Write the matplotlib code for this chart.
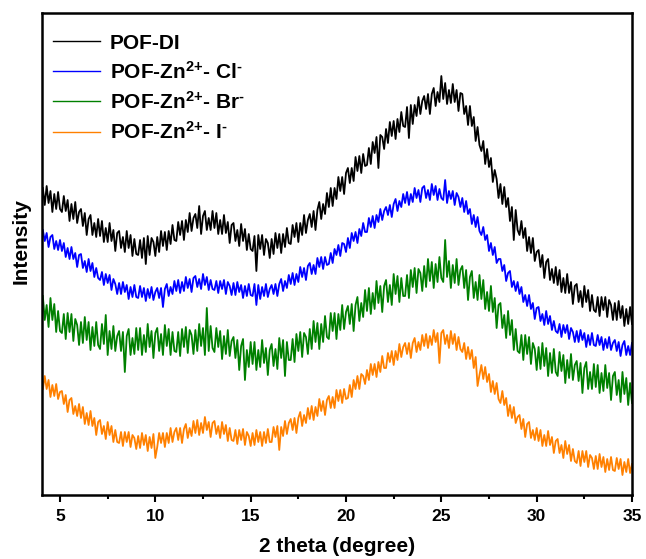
import numpy as np
import matplotlib
matplotlib.use("Agg")
import matplotlib.pyplot as plt
from matplotlib.ticker import MultipleLocator

plt.rcParams['font.family'] = ['Liberation Sans', 'DejaVu Sans']
plt.rcParams['font.weight'] = 'bold'
plt.rcParams['mathtext.fontset'] = 'custom'
plt.rcParams['mathtext.rm'] = 'Liberation Sans:bold'
plt.rcParams['mathtext.default'] = 'rm'

# 2-theta scan, 0.1 degree step from 4.1 to 35.0
two_theta = np.round(np.arange(41, 351) * 0.1, 1)

# Stacked intensities (arbitrary units, offset for display)
pof_di = [
    312, 295, 314, 297, 309, 288, 306, 291, 308, 291,
    288, 304, 289, 300, 279, 296, 281, 298, 277, 288,
    291, 274, 287, 265, 281, 285, 265, 277, 263, 281,
    264, 279, 258, 272, 258, 277, 259, 270, 249, 267,
    269, 252, 263, 248, 269, 252, 265, 244, 261, 246,
    245, 260, 242, 262, 236, 264, 245, 262, 258, 244,
    263, 248, 269, 254, 268, 250, 269, 256, 275, 260,
    259, 278, 265, 279, 260, 280, 268, 287, 269, 282,
    286, 272, 294, 266, 284, 289, 270, 282, 270, 289,
    272, 287, 266, 280, 266, 285, 267, 278, 257, 275,
    277, 259, 270, 254, 276, 259, 271, 250, 266, 251,
    249, 264, 229, 265, 251, 265, 245, 261, 257, 242,
    261, 246, 267, 252, 266, 247, 266, 253, 272, 257,
    256, 275, 263, 277, 258, 277, 265, 285, 267, 280,
    286, 273, 289, 270, 290, 298, 281, 296, 286, 307,
    293, 312, 294, 312, 301, 323, 309, 323, 306, 327,
    332, 317, 332, 319, 343, 329, 344, 327, 346, 334,
    335, 352, 336, 358, 347, 363, 332, 365, 363, 351,
    371, 357, 378, 364, 379, 361, 381, 368, 388, 374,
    373, 393, 362, 395, 376, 395, 384, 403, 386, 399,
    404, 391, 406, 386, 406, 412, 394, 408, 398, 424,
    401, 417, 396, 410, 397, 416, 398, 410, 389, 407,
    406, 386, 394, 375, 394, 374, 383, 359, 373, 355,
    349, 359, 336, 351, 333, 342, 318, 330, 321, 302,
    316, 296, 313, 293, 302, 279, 293, 260, 290, 270,
    265, 279, 262, 272, 249, 263, 247, 262, 239, 248,
    250, 233, 245, 222, 238, 241, 220, 231, 217, 233,
    215, 230, 208, 222, 207, 226, 207, 218, 196, 214,
    216, 198, 209, 193, 214, 198, 210, 189, 205, 190,
    188, 203, 184, 203, 190, 203, 183, 200, 195, 180,
    197, 180, 199, 182, 194, 174, 191, 176, 193, 176,
]

pof_zn_cl = [
    270, 259, 267, 253, 263, 265, 251, 259, 250, 260,
    249, 257, 243, 252, 241, 253, 241, 247, 233, 245,
    246, 232, 239, 228, 241, 229, 237, 223, 232, 222,
    220, 228, 215, 226, 217, 225, 210, 221, 216, 206,
    217, 206, 218, 208, 215, 201, 213, 203, 215, 203,
    202, 214, 203, 212, 199, 211, 202, 213, 200, 208,
    212, 202, 212, 193, 211, 216, 204, 213, 206, 219,
    209, 220, 207, 218, 209, 223, 212, 221, 208, 222,
    224, 213, 221, 211, 226, 215, 223, 210, 220, 211,
    210, 219, 207, 219, 211, 220, 206, 218, 214, 205,
    217, 205, 218, 208, 215, 202, 214, 204, 216, 205,
    204, 216, 195, 215, 201, 213, 204, 216, 203, 211,
    215, 206, 216, 204, 216, 221, 209, 219, 212, 225,
    216, 227, 215, 226, 218, 233, 223, 232, 220, 234,
    237, 226, 235, 226, 242, 233, 243, 231, 243, 235,
    236, 247, 237, 251, 245, 255, 244, 257, 256, 248,
    262, 252, 267, 259, 268, 257, 271, 264, 277, 268,
    268, 282, 273, 284, 272, 285, 278, 291, 280, 289,
    293, 285, 295, 283, 296, 301, 289, 299, 293, 306,
    297, 308, 295, 306, 298, 312, 302, 310, 298, 312,
    314, 302, 310, 300, 316, 305, 314, 300, 311, 302,
    300, 320, 297, 309, 301, 309, 295, 307, 303, 293,
    302, 288, 299, 286, 291, 276, 285, 273, 283, 269,
    265, 273, 260, 265, 249, 257, 245, 253, 237, 241,
    241, 229, 235, 219, 227, 229, 213, 219, 209, 218,
    206, 213, 198, 205, 194, 205, 191, 197, 181, 192,
    193, 179, 186, 175, 189, 176, 184, 170, 179, 169,
    167, 176, 163, 175, 167, 175, 161, 172, 168, 158,
    169, 158, 170, 160, 167, 153, 165, 155, 167, 155,
    154, 165, 155, 163, 150, 161, 152, 163, 150, 157,
    160, 149, 158, 144, 155, 159, 145, 154, 145, 157,
]

pof_zn_br = [
    204, 180, 195, 173, 202, 180, 196, 168, 189, 169,
    167, 186, 161, 187, 168, 186, 159, 181, 175, 155,
    178, 157, 183, 160, 178, 150, 173, 154, 178, 155,
    151, 176, 156, 185, 145, 169, 151, 174, 149, 164,
    169, 149, 168, 128, 164, 171, 145, 162, 146, 172,
    150, 172, 145, 165, 148, 176, 153, 169, 142, 167,
    172, 149, 166, 145, 175, 154, 171, 145, 168, 149,
    148, 168, 144, 171, 153, 173, 147, 170, 165, 146,
    170, 149, 176, 154, 172, 145, 192, 149, 174, 152,
    148, 172, 153, 169, 141, 164, 146, 170, 144, 159,
    163, 142, 160, 130, 154, 161, 120, 150, 133, 158,
    136, 158, 130, 150, 133, 160, 137, 152, 125, 150,
    156, 134, 151, 131, 162, 142, 160, 124, 158, 140,
    140, 161, 138, 166, 149, 168, 143, 167, 163, 146,
    171, 151, 179, 158, 177, 151, 176, 158, 184, 163,
    161, 187, 169, 187, 161, 186, 170, 195, 171, 188,
    194, 176, 196, 169, 195, 203, 179, 197, 183, 210,
    189, 212, 186, 207, 191, 219, 197, 214, 188, 214,
    220, 198, 215, 195, 226, 206, 224, 198, 222, 204,
    204, 225, 202, 230, 213, 232, 207, 231, 227, 209,
    234, 213, 241, 219, 238, 212, 236, 218, 243, 222,
    218, 260, 223, 239, 212, 235, 217, 241, 215, 230,
    234, 212, 230, 200, 223, 229, 202, 218, 200, 225,
    201, 220, 191, 208, 189, 214, 188, 202, 172, 195,
    197, 172, 185, 162, 189, 165, 180, 150, 171, 149,
    147, 165, 140, 165, 146, 163, 136, 157, 151, 130,
    153, 131, 157, 134, 152, 124, 147, 127, 151, 128,
    124, 148, 129, 145, 117, 140, 122, 146, 120, 135,
    139, 119, 137, 107, 132, 138, 111, 128, 111, 136,
    113, 135, 107, 127, 109, 135, 112, 127, 100, 124,
    128, 105, 120, 98, 128, 106, 122, 95, 117, 97,
]

pof_zn_i = [
    111, 124, 111, 120, 103, 115, 104, 116, 101, 108,
    109, 96, 105, 88, 100, 102, 86, 94, 84, 96,
    82, 93, 76, 87, 75, 89, 74, 82, 65, 78,
    80, 66, 74, 61, 78, 65, 74, 58, 70, 58,
    57, 68, 54, 68, 58, 68, 53, 65, 62, 51,
    64, 52, 67, 55, 65, 49, 63, 52, 66, 42,
    53, 67, 57, 67, 53, 67, 57, 72, 58, 68,
    72, 60, 72, 57, 71, 76, 62, 72, 64, 79,
    67, 80, 65, 77, 67, 83, 70, 78, 63, 77,
    79, 66, 74, 62, 78, 66, 75, 59, 72, 60,
    59, 70, 56, 70, 60, 71, 55, 68, 64, 54,
    67, 55, 70, 58, 68, 54, 68, 57, 71, 58,
    58, 73, 63, 74, 50, 73, 64, 79, 66, 77,
    81, 70, 82, 67, 82, 88, 74, 85, 77, 92,
    81, 94, 80, 93, 84, 101, 89, 99, 85, 100,
    104, 92, 103, 92, 110, 99, 110, 97, 111, 101,
    102, 115, 103, 120, 111, 124, 111, 126, 124, 116,
    130, 120, 136, 125, 136, 123, 138, 128, 144, 132,
    132, 147, 138, 149, 135, 149, 140, 156, 143, 153,
    157, 146, 157, 142, 157, 162, 148, 158, 150, 165,
    154, 166, 152, 164, 155, 170, 158, 167, 137, 167,
    170, 156, 165, 152, 169, 156, 166, 150, 163, 151,
    148, 157, 141, 153, 141, 150, 132, 143, 114, 125,
    135, 121, 133, 118, 126, 108, 119, 106, 117, 101,
    97, 109, 95, 102, 84, 95, 82, 93, 77, 83,
    85, 71, 81, 63, 76, 78, 62, 70, 60, 72,
    59, 70, 54, 65, 54, 69, 55, 63, 47, 59,
    61, 47, 55, 42, 59, 46, 55, 39, 51, 39,
    37, 49, 34, 49, 38, 49, 33, 45, 42, 31,
    44, 31, 46, 33, 43, 28, 41, 30, 43, 30,
    29, 42, 31, 41, 25, 38, 28, 41, 27, 36,
]

series_labels = [
    'POF-DI',
    'POF-Zn$^{2{+}}$- Cl$^{\u2010}$',
    'POF-Zn$^{2{+}}$- Br$^{\u2010}$',
    'POF-Zn$^{2{+}}$- I$^{\u2010}$',
]
series_colors = ['#000000', '#0000FF', '#008000', '#FF8000']
series_values = [pof_di, pof_zn_cl, pof_zn_br, pof_zn_i]

fig = plt.figure(figsize=(6.46, 5.59), dpi=100)
ax = fig.add_axes([42 / 646, 64 / 559, 590 / 646, 482 / 559])

for vals, lab, col in zip(series_values, series_labels, series_colors):
    ax.plot(two_theta, vals, color=col, lw=1.3, label=lab)

ax.set_xlim(4.056, 35.0)
ax.set_ylim(5, 487)
ax.set_yticks([])
ax.xaxis.set_major_locator(MultipleLocator(5))
ax.xaxis.set_minor_locator(MultipleLocator(2.5))
ax.tick_params(axis='x', which='major', direction='out', length=5, width=1.5,
               pad=5, labelsize=12.5)
ax.tick_params(axis='x', which='minor', direction='out', length=3, width=1.5)
for lbl in ax.get_xticklabels():
    lbl.set_fontweight('bold')
for sp in ax.spines.values():
    sp.set_linewidth(1.8)

ax.set_xlabel('2 theta (degree)', fontsize=15, fontweight='bold')
ax.set_ylabel('Intensity', fontsize=15, fontweight='bold')
ax.xaxis.set_label_coords(0.5, -0.087)
ax.yaxis.set_label_coords(-0.02, 0.527)

leg = ax.legend(loc='upper left', bbox_to_anchor=(0.0186, 0.957), frameon=False,
                borderaxespad=0, borderpad=0, handlelength=2.26,
                handletextpad=0.48, labelspacing=0.39, fontsize=15)
for h in leg.get_lines():
    h.set_linewidth(1.0)

fig.savefig('out.png', dpi=100)
